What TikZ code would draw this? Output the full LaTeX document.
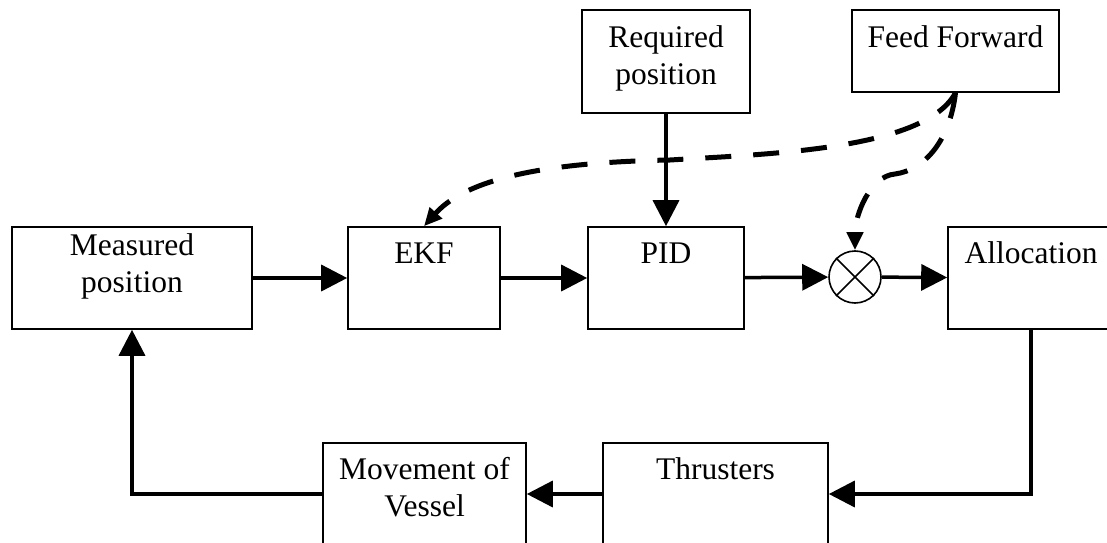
\documentclass[tikz,border=0pt]{standalone}
\usepackage{fontspec}
\setmainfont{Liberation Serif}
\usetikzlibrary{calc,arrows.meta}
\tikzset{
  block/.style={draw, line width=0.8pt, minimum height=51pt, inner sep=0pt},
  txt/.style={font=\fontsize{15.75}{18.5}\selectfont, align=center, anchor=base, inner sep=0pt},
  flow/.style={line width=1.75pt, -{Triangle[length=13pt,width=13pt]}},
  ffwd/.style={line width=2.5pt, dash pattern=on 13pt off 11pt, -{Triangle[length=9pt,width=8pt]}},
}

\begin{document}
\begin{tikzpicture}[x=0.5pt, y=0.5pt]
    \useasboundingbox (0,0) rectangle (1107,542);
    \clip (0,0) rectangle (1107,542);

    % blocks
    \node [block, minimum width=120pt] (meas) at (132,264) {};
    \node [block, minimum width=76pt] (ekf) at (424,264) {};
    \node [block, minimum width=78pt] (pid) at (666,264) {};
    \node [draw, circle, line width=0.8pt, minimum size=26pt, inner sep=0pt] (sum) at (855,265) {};
    \node [block, minimum width=83pt] (alloc) at (1031,264) {};
    \node [block, minimum width=84pt, minimum height=51.5pt] (req) at (666,480.5) {};
    \node [block, minimum width=103.5pt, minimum height=41pt] (ff) at (955.5,491) {};
    \node [block, minimum width=101.5pt] (mov) at (424.5,48) {};
    \node [block, minimum width=112.5pt] (thr) at (715.5,48) {};
    \draw [line width=0.8pt] (sum.45) -- (sum.225) (sum.135) -- (sum.315);

    % add labels (base of a two-line label is its last line)
    \node [txt] (meas-t) at ($(meas.north)+(0,-66)$) {Measured\\position};
    \node [txt] (ekf-t) at ($(ekf.north)+(0,-37)$) {EKF};
    \node [txt] (pid-t) at ($(pid.north)+(0,-37)$) {PID};
    \node [txt] (alloc-t) at ($(alloc.north)+(0,-37)$) {Allocation};
    \node [txt] (req-t) at ($(req.north)+(0,-75)$) {Required\\position};
    \node [txt] (ff-t) at ($(ff.north)+(0,-38)$) {Feed Forward};
    \node [txt] (mov-t) at ($(mov.north)+(0,-74)$) {Movement of\\Vessel};
    \node [txt] (thr-t) at ($(thr.north)+(0,-37)$) {Thrusters};

    % loop
    \draw [flow] (meas) -- (ekf);
    \draw [flow] (ekf) -- (pid);
    \draw [flow] (pid) -- (sum);
    \draw [flow] (sum) -- (alloc);
    \draw [flow] (req) -- (pid);
    \draw [flow] (alloc.south) |- (thr.east);
    \draw [flow] (thr) -- (mov);
    \draw [flow] (mov.west) -| (meas.south);

    % feed forward
    \draw [ffwd] (ff.south) .. controls (925,392) and (767,388) .. (670,382)
        .. controls (560,380) and (470,367) .. (ekf.north);
    \draw [ffwd] (ff.south) .. controls (950,402) and (925,372) .. (895,368)
        .. controls (870,366) and (855,327) .. (sum.north);
\end{tikzpicture}
\end{document}
